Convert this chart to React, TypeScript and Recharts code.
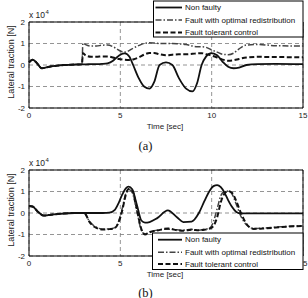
import { LineChart, Line, XAxis, YAxis, CartesianGrid, ReferenceArea } from 'recharts';

const timeTicks = [0, 5, 10, 15];
const forceTicks = [-2, -1, 0, 1, 2];
const seriesNames = ['Non faulty', 'Fault with optimal redistribution', 'Fault tolerant control'];

// (a) lateral traction, x 10^4 N
const timeA = [0, 0.2, 0.4, 0.7, 1.0, 1.5, 2.0, 2.5, 2.9, 2.95, 3.1, 3.4, 3.7, 4.0, 4.3, 4.6, 4.8, 5.0, 5.25, 5.5, 5.7, 6.0, 6.3, 6.6, 6.85, 7.15, 7.5, 7.85, 8.2, 8.6, 8.95, 9.2, 9.45, 9.7, 9.95, 10.3, 10.6, 10.9, 11.2, 11.5, 11.9, 12.5, 13.5, 15];
const nonFaultyA = [0.12, 0.25, 0.12, -0.15, -0.1, -0.03, 0.0, 0.02, 0.03, 0.03, 0.03, 0.04, 0.04, 0.05, 0.08, 0.2, 0.35, 0.48, 0.54, 0.38, 0.0, -0.6, -1.0, -1.1, -0.8, 0.0, 0.12, 0.0, -0.6, -1.1, -1.23, -0.85, 0.0, 0.4, 0.55, 0.45, 0.15, -0.08, -0.15, -0.12, 0.0, 0.04, 0.05, 0.04];
const optimalA = [0.12, 0.25, 0.12, -0.15, -0.1, -0.03, 0.0, 0.02, 0.03, 1.02, 0.95, 0.88, 0.88, 0.92, 0.93, 0.85, 0.75, 0.65, 0.6, 0.68, 0.78, 0.9, 1.0, 1.03, 1.02, 1.0, 1.0, 1.0, 0.98, 0.95, 0.88, 0.85, 0.85, 0.82, 0.72, 0.6, 0.5, 0.48, 0.55, 0.75, 0.93, 0.95, 0.9, 0.88];
const tolerantA = [0.12, 0.25, 0.12, -0.15, -0.1, -0.03, 0.0, 0.02, 0.03, 0.55, 0.45, 0.38, 0.38, 0.4, 0.4, 0.35, 0.3, 0.27, 0.24, 0.23, 0.26, 0.35, 0.48, 0.56, 0.56, 0.5, 0.45, 0.48, 0.5, 0.5, 0.52, 0.54, 0.55, 0.5, 0.45, 0.35, 0.25, 0.2, 0.22, 0.28, 0.35, 0.38, 0.37, 0.36];

// (b) lateral traction, x 10^4 N
const timeB = [0, 0.2, 0.5, 0.8, 1.2, 1.8, 2.5, 2.9, 3.05, 3.3, 3.6, 4.05, 4.4, 4.7, 4.9, 5.1, 5.3, 5.45, 5.65, 5.9, 6.15, 6.35, 6.6, 7.0, 7.6, 8.1, 8.45, 8.9, 9.3, 9.6, 9.9, 10.1, 10.3, 10.5, 10.7, 10.9, 11.1, 11.35, 11.6, 11.9, 12.3, 12.8, 13.5, 14.2, 15];
const nonFaultyB = [0.32, 0.3, 0.05, -0.12, -0.08, -0.03, 0.0, 0.0, 0.0, 0.0, 0.0, 0.0, 0.02, 0.15, 0.45, 0.85, 1.15, 1.23, 1.1, 0.4, -0.35, -0.45, -0.42, -0.25, 0.12, -0.2, -0.42, -0.4, 0.0, 0.55, 1.05, 1.25, 1.3, 1.2, 0.95, 0.6, 0.3, 0.05, -0.02, -0.02, -0.02, -0.02, -0.02, -0.02, -0.02];
const optimalB = [0.32, 0.3, 0.05, -0.12, -0.08, -0.03, 0.0, 0.0, -0.02, -0.38, -0.62, -0.75, -0.74, -0.68, -0.4, 0.2, 0.9, 1.1, 0.95, 0.1, -0.8, -0.98, -0.88, -0.8, -0.75, -0.78, -0.8, -0.76, -0.8, -0.76, -0.7, -0.4, 0.2, 0.8, 1.0, 1.02, 0.9, 0.4, -0.15, -0.55, -0.72, -0.7, -0.66, -0.62, -0.6];
const tolerantB = [0.32, 0.3, 0.05, -0.12, -0.08, -0.03, 0.0, 0.0, -0.02, -0.4, -0.65, -0.77, -0.75, -0.7, -0.45, 0.1, 0.85, 1.12, 1.05, 0.2, -0.75, -1.0, -0.9, -0.82, -0.72, -0.8, -0.82, -0.78, -0.8, -0.78, -0.72, -0.6, -0.2, 0.5, 0.9, 1.02, 0.95, 0.55, 0.0, -0.5, -0.74, -0.72, -0.68, -0.63, -0.6];

const sans = "'Liberation Sans', Arial, sans-serif";
const serif = "'Liberation Serif', 'Times New Roman', serif";

const lineStyles = [
  { key: 'nf', stroke: '#111', width: 1.8, dash: undefined },
  { key: 'opt', stroke: '#444', width: 1.5, dash: '6 2 1.5 2' },
  { key: 'tol', stroke: '#111', width: 2, dash: '5 2.5' },
];

function toRows(time: number[], nf: number[], opt: number[], tol: number[]) {
  return time.map((t, i) => ({ t, nf: nf[i], opt: opt[i], tol: tol[i] }));
}

const tickStyle = { fontSize: 8, fill: '#222', fontFamily: sans };

function TractionPlot({ rows, top }: { rows: any[]; top: number }) {
  return (
    <div style={{ position: 'absolute', left: 0, top }}>
      <LineChart width={308} height={150} data={rows} margin={{ top: 22, right: 5, left: 0, bottom: 0 }}>
        <CartesianGrid strokeDasharray="4 3" stroke="#7a7a7a" strokeWidth={0.8} />
        <XAxis dataKey="t" type="number" domain={[0, 15]} ticks={timeTicks} interval={0}
          axisLine={false} tickLine={false} tickSize={0} tickMargin={4} height={42} tick={tickStyle} />
        <YAxis type="number" domain={[-2, 2]} ticks={forceTicks} interval={0}
          axisLine={false} tickLine={false} tickSize={0} tickMargin={4} width={29} tick={tickStyle} />
        <ReferenceArea x1={0} x2={15} y1={-2} y2={2} fill="none" stroke="#000" strokeWidth={1} />
        <Line type="monotone" dataKey="opt" stroke={lineStyles[1].stroke} strokeWidth={lineStyles[1].width}
          strokeDasharray={lineStyles[1].dash} dot={false} isAnimationActive={false} />
        <Line type="monotone" dataKey="tol" stroke={lineStyles[2].stroke} strokeWidth={lineStyles[2].width}
          strokeDasharray={lineStyles[2].dash} dot={false} isAnimationActive={false} />
        <Line type="monotone" dataKey="nf" stroke={lineStyles[0].stroke} strokeWidth={lineStyles[0].width}
          dot={false} isAnimationActive={false} />
      </LineChart>
    </div>
  );
}

function LegendBox({ x, y, w, h, rowY, x0 }: { x: number; y: number; w: number; h: number; rowY: number[]; x0: number }) {
  return (
    <g>
      <rect x={x} y={y} width={w} height={h} fill="#fff" stroke="#000" strokeWidth={1} />
      {seriesNames.map((name, i) => (
        <g key={name}>
          <line x1={x0} x2={182} y1={rowY[i]} y2={rowY[i]} stroke={lineStyles[i].stroke}
            strokeWidth={lineStyles[i].width} strokeDasharray={lineStyles[i].dash} />
          <text x={185} y={rowY[i]} dominantBaseline="central" fontSize={8} fontFamily={sans} fill="#111">{name}</text>
        </g>
      ))}
    </g>
  );
}

function Labels({ dy, tag, tagY }: { dy: number; tag: string; tagY: number }) {
  return (
    <g>
      <text x={29} y={18 + dy} fontSize={8.5} fontFamily={sans} fill="#222">x 10</text>
      <text x={45.5} y={14 + dy} fontSize={6} fontFamily={sans} fill="#222">4</text>
      <text x={11} y={62 + dy} transform={`rotate(-90 11 ${62 + dy})`} textAnchor="middle" dominantBaseline="central"
        fontSize={9} fontFamily={sans} fill="#222">Lateral traction [N]</text>
      <text x={165} y={126 + dy} textAnchor="middle" dominantBaseline="central" fontSize={8} fontFamily={sans} fill="#222">Time [sec]</text>
      <text x={145.5} y={tagY} textAnchor="middle" dominantBaseline="central" fontSize={12.5} fontFamily={serif} fill="#111">{tag}</text>
    </g>
  );
}

export default function App() {
  const rowsA = toRows(timeA, nonFaultyA, optimalA, tolerantA);
  const rowsB = toRows(timeB, nonFaultyB, optimalB, tolerantB);
  return (
    <div style={{ position: 'absolute', left: 0, top: 0, width: 308, height: 298, background: '#fff', overflow: 'hidden' }}>
      <TractionPlot rows={rowsA} top={0} />
      <TractionPlot rows={rowsB} top={148} />
      <svg width={308} height={298} style={{ position: 'absolute', left: 0, top: 0, pointerEvents: 'none' }}>
        <Labels dy={0} tag="(a)" tagY={146} />
        <Labels dy={148} tag="(b)" tagY={292.5} />
        <LegendBox x={153.5} y={1} w={149.5} h={36} rowY={[7.5, 20, 32.5]} x0={155.5} />
        <LegendBox x={152.5} y={233} w={150.5} h={36.5} rowY={[239.7, 252.3, 264]} x0={158} />
      </svg>
    </div>
  );
}
